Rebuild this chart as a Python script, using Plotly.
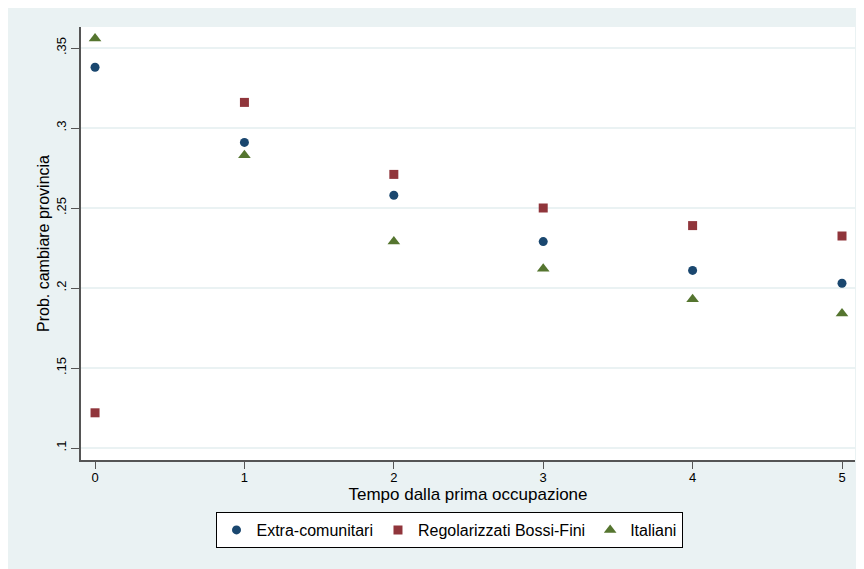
import plotly.graph_objects as go

tempo = [0, 1, 2, 3, 4, 5]
extra_comunitari = [0.338, 0.291, 0.258, 0.229, 0.211, 0.203]
regolarizzati = [0.122, 0.316, 0.271, 0.250, 0.239, 0.2325]
italiani = [0.356, 0.283, 0.229, 0.212, 0.193, 0.184]

y_ticks = [0.1, 0.15, 0.2, 0.25, 0.3, 0.35]
y_tick_labels = [".1", ".15", ".2", ".25", ".3", ".35"]
x_ticks = [0, 1, 2, 3, 4, 5]

BG = "#EAF2F3"
FONT = "Liberation Sans, Arial, sans-serif"

fig = go.Figure()
fig.add_trace(go.Scatter(x=tempo, y=extra_comunitari, mode="markers", name="Extra-comunitari",
                         marker=dict(symbol="circle", size=9, color="#1A476F")))
fig.add_trace(go.Scatter(x=tempo, y=regolarizzati, mode="markers", name="Regolarizzati Bossi-Fini",
                         marker=dict(symbol="square", size=9, color="#90353B")))
fig.add_trace(go.Scatter(x=tempo, y=italiani, mode="markers", name="Italiani",
                         marker=dict(symbol="triangle-up", size=11, color="#55752F")))

# figure is placed at (8, 8) in the page by the default body margin
OX, OY = 8, 8
W, H = 856, 561
L, R, T, B = 81 - OX, 9, 27 - OY, 109
pw, ph = W - L - R, H - T - B

def px(x):
    return (x - OX - L) / pw

def py(y):
    return (H - B - (y - OY)) / ph

fig.update_layout(
    width=W, height=H,
    margin=dict(l=L, r=R, t=T, b=B),
    paper_bgcolor=BG,
    plot_bgcolor="white",
    font=dict(family=FONT, color="black"),
    showlegend=True,
    legend=dict(orientation="h", x=px(449), xanchor="center", y=py(512), yanchor="top",
                bgcolor="white", bordercolor="black", borderwidth=1,
                font=dict(size=16, family=FONT), itemwidth=30, traceorder="normal"),
    xaxis=dict(range=[-0.094, 5.087], tickvals=x_ticks, ticks="outside", ticklen=7, tickwidth=1,
               tickcolor="#555555", showline=True, linecolor="#555555", linewidth=1.5,
               showgrid=False, zeroline=False, tickfont=dict(size=13), ticklabelstandoff=-2,
               title=dict(text="Tempo dalla prima occupazione", font=dict(size=17), standoff=0)),
    yaxis=dict(range=[0.0925, 0.363125], tickvals=y_ticks, ticktext=y_tick_labels, tickangle=-90,
               ticks="outside", ticklen=8, tickwidth=1, tickcolor="#555555",
               showline=True, linecolor="#555555", linewidth=1.5,
               showgrid=True, gridcolor=BG, gridwidth=1.5, zeroline=False, tickfont=dict(size=13),
               title=dict(text="Prob. cambiare provincia", font=dict(size=16), standoff=0)),
)

fig.write_html("out.html")
